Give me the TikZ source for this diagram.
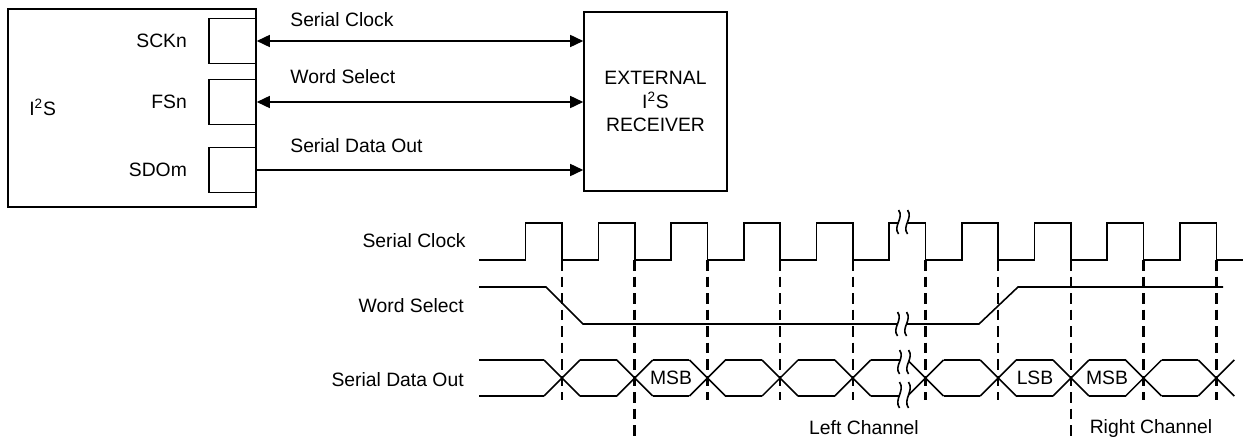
\documentclass[tikz,border=0pt]{standalone}
\usepackage{fontspec}
\setmainfont{Liberation Sans}
\usetikzlibrary{arrows.meta,positioning}
\tikzset{
  >={Triangle[length=2.6mm,width=2.4mm]},
  blk/.style={draw,line width=0.9pt,inner sep=0pt,minimum width=#1},
  port/.style={draw,line width=0.9pt,inner sep=0pt,minimum width=9.4mm,minimum height=9mm},
  lbl/.style={font=\fontsize{11}{13.5}\selectfont,inner sep=1mm},
  link/.style={line width=0.9pt},
  wave/.style={line width=0.9pt},
  guide/.style={line width=1.4pt,dash pattern=on 2.1mm off 1.2mm},
  % break mark
  pics/brk/.style={code={
    \fill[white] (-4.5,-#1) rectangle (4.5,#1);
    \foreach \dx in {-4.5,4.5}
      \draw[wave] (\dx,-#1) .. controls (\dx+6,-#1/3) and (\dx-6,#1/3) .. (\dx,#1);
  }},
}
\begin{document}
\begin{tikzpicture}[x=0.2mm,y=-0.2mm]
  \useasboundingbox (0,0) rectangle (1252,438);
  % block diagram
  \node[blk=49.6mm,minimum height=39.6mm] (i2s) at (132,108) {};
  \node[lbl,anchor=west] (i2sname) at (24,107) {I\textsuperscript{2}S};
  \node[port] (sck) at (232.5,41) {};
  \node[port] (fs) at (232.5,102) {};
  \node[port] (sdo) at (232.5,170) {};
  \node[lbl,left=3.2mm of sck] (scklbl) {SCKn};
  \node[lbl,left=3.2mm of fs] (fslbl) {FSn};
  \node[lbl,left=3.2mm of sdo] (sdolbl) {SDOm};
  \node[blk=28.6mm,minimum height=35.8mm,lbl,align=center] (rx) at (655.5,101.5)
    {EXTERNAL\\I\textsuperscript{2}S\\RECEIVER};
  \draw[link,<->] (sck.east) -- (sck.east -| rx.west);
  \draw[link,<->] (fs.east) -- (fs.east -| rx.west);
  \draw[link,->] (sdo.east) -- (sdo.east -| rx.west);
  \node[lbl,anchor=west] (sckwire) at (285,20) {Serial Clock};
  \node[lbl,anchor=west] (fswire) at (285,77) {Word Select};
  \node[lbl,anchor=west] (sdowire) at (285,146) {Serial Data Out};
  % timing
  \node[lbl,anchor=east] (sckrow) at (471,241) {Serial Clock};
  \node[lbl,anchor=east] (fsrow) at (469,306) {Word Select};
  \node[lbl,anchor=east] (sdorow) at (469,380) {Serial Data Out};
  \foreach \k/\len in {0/140,1/178,2/140,3/140,4/140,5/140,6/140,7/178,8/140,9/140}
    \draw[guide] ({562+72.7*\k},260) -- ++(0,\len);
  \draw[wave] (479,260) foreach \k in {0,...,9} {
    -- ({525.65+72.7*\k},260) -- ++(0,-37) -- ++(36.35,0) -- ++(0,37) } -- (1243,260);
  \draw[wave] (479,287) -- (546,287) -- (583,324) -- (979,324) -- (1018,287) -- (1223,287);
  \draw[wave] (479,360) -- (544,360) (479,396) -- (544,396);
  \foreach \k in {0,...,9}
    \draw[wave] ({544+72.7*\k},360) -- ++(36,36) ({544+72.7*\k},396) -- ++(36,-36);
  \foreach \k in {0,...,8}
    \draw[wave] ({580+72.7*\k},360) -- ++(36.7,0) ({580+72.7*\k},396) -- ++(36.7,0);
  \pic at (903,222) {brk=12};
  \pic at (902,324) {brk=12};
  \pic at (904,362) {brk=12};
  \pic at (904,395) {brk=13};
  \node[lbl] (msb1) at (671,378) {MSB};
  \node[lbl] (lsb) at (1035,378) {LSB};
  \node[lbl] (msb2) at (1107,378) {MSB};
  \node[lbl] (left) at (864,428) {Left Channel};
  \node[lbl] (right) at (1151,428) {Right Channel};
\end{tikzpicture}
\end{document}
